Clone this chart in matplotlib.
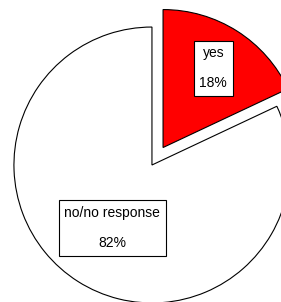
import numpy as np
import matplotlib.pyplot as plt

plt.rcParams['font.family'] = ['Liberation Sans', 'DejaVu Sans']

labels = ["yes", "no/no response"]
shares = [18, 82]
colors = ["#ff0000", "#ffffff"]
explode = [0.15, 0]
label_dist = [0.68, 0.54]

fig = plt.figure(figsize=(2.81, 3.02), dpi=100)
ax = fig.add_axes([0, 0, 1, 1])

wedges, _ = ax.pie(shares, colors=colors, explode=explode, startangle=90,
                   counterclock=False, radius=1.0,
                   wedgeprops=dict(edgecolor="black", linewidth=0.8))

# labels in boxes placed along each wedge's bisector
for w, lab, s, d in zip(wedges, labels, shares, label_dist):
    mid = np.deg2rad((w.theta1 + w.theta2) / 2)
    cx, cy = w.center
    ax.text(cx + d * np.cos(mid), cy + d * np.sin(mid),
            "{}\n\n{}%".format(lab, s), ha="center", va="center",
            fontsize=10, linespacing=1.1,
            bbox=dict(boxstyle="square,pad=0.4", fc="white", ec="black", lw=0.8))

ax.set_xlim(-1.101, 0.935)
ax.set_ylim(-0.993, 1.196)
ax.set_aspect("auto")
ax.axis("off")

fig.savefig("out.png", dpi=100)
